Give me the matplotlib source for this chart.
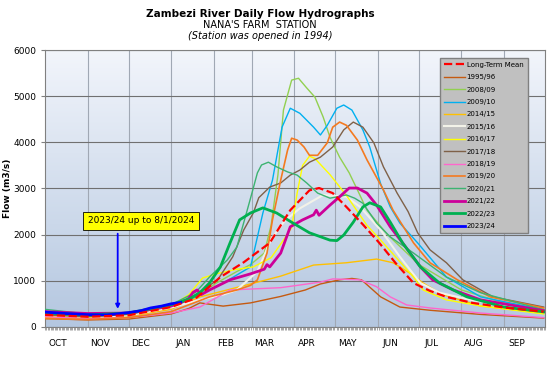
import numpy as np
import matplotlib
matplotlib.use("Agg")
import matplotlib.pyplot as plt
from matplotlib.ticker import MultipleLocator

# days counted from 1 October, flows in m3/s
months = ['OCT', 'NOV', 'DEC', 'JAN', 'FEB', 'MAR', 'APR', 'MAY', 'JUN', 'JUL', 'AUG', 'SEP']
month_start = [0, 31, 61, 92, 123, 151, 182, 212, 243, 273, 304, 335]

ltm_days = [0, 31, 61, 92, 110, 128, 145, 164, 179, 193, 200, 210, 220, 232, 244, 256, 269, 281, 293, 312, 335, 364]
ltm_flow = [260, 220, 250, 430, 620, 1080, 1400, 1820, 2530, 2960, 3010, 2900, 2600, 2220, 1820, 1380, 950, 780, 650, 520, 420, 330]

d9596 = [0, 31, 61, 92, 105, 113, 130, 150, 172, 190, 201, 215, 224, 231, 245, 259, 281, 318, 364]
f9596 = [180, 150, 170, 280, 400, 520, 450, 520, 660, 800, 930, 1020, 1050, 1020, 650, 430, 360, 270, 190]

d0809 = [0, 31, 61, 92, 110, 125, 140, 150, 160, 165, 170, 174, 180, 185, 191, 197, 203, 208, 215, 222, 228, 235, 250, 273, 304, 335, 364]
f0809 = [240, 210, 260, 420, 650, 950, 1200, 1350, 1600, 2200, 3300, 4700, 5350, 5390, 5180, 4980, 4550, 4110, 3680, 3340, 2970, 2530, 2000, 1350, 800, 520, 380]

d0910 = [0, 31, 61, 92, 110, 120, 130, 150, 159, 166, 173, 179, 186, 191, 196, 201, 206, 213, 218, 224, 232, 237, 245, 252, 259, 272, 293, 318, 364]
f0910 = [280, 230, 280, 450, 650, 800, 950, 1300, 2470, 3180, 4330, 4740, 4630, 4480, 4330, 4160, 4370, 4740, 4810, 4700, 4270, 3900, 3100, 2600, 2250, 1820, 1080, 650, 370]

d1415 = [0, 31, 61, 92, 113, 142, 172, 196, 220, 242, 254, 266, 276, 290, 318, 364]
f1415 = [200, 180, 230, 380, 650, 870, 1100, 1340, 1390, 1470, 1390, 1170, 950, 700, 450, 300]

d1516 = [0, 31, 61, 92, 115, 130, 140, 155, 165, 175, 186, 203, 220, 230, 245, 259, 274, 288, 310, 364]
f1516 = [250, 210, 250, 420, 600, 700, 800, 1200, 1900, 2300, 2570, 2860, 2820, 2600, 2100, 1520, 950, 740, 590, 320]

d1617 = [0, 31, 61, 92, 105, 115, 125, 140, 152, 165, 174, 180, 184, 188, 193, 197, 208, 220, 235, 245, 269, 276, 293, 318, 364]
f1617 = [230, 200, 280, 450, 700, 1060, 1150, 1250, 1300, 1500, 1880, 2150, 2900, 3500, 3700, 3650, 3300, 2850, 2200, 1880, 1080, 800, 585, 455, 280]

d1718 = [0, 31, 61, 92, 110, 126, 137, 145, 152, 156, 164, 172, 179, 186, 193, 201, 210, 218, 225, 232, 240, 247, 257, 265, 272, 281, 293, 305, 327, 364]
f1718 = [260, 220, 270, 450, 700, 1020, 1520, 2100, 2470, 2800, 3030, 3120, 3290, 3400, 3570, 3680, 3900, 4270, 4440, 4330, 3990, 3470, 2900, 2500, 2040, 1670, 1390, 1020, 650, 430]

d1819 = [0, 31, 61, 92, 113, 135, 172, 201, 210, 230, 242, 252, 264, 281, 318, 364]
f1819 = [220, 180, 200, 300, 430, 800, 850, 970, 1040, 1020, 870, 650, 475, 410, 300, 200]

d1920 = [0, 31, 61, 92, 120, 140, 150, 155, 162, 166, 172, 177, 180, 184, 189, 193, 199, 206, 210, 215, 220, 228, 235, 247, 254, 269, 281, 301, 325, 364]
f1920 = [180, 160, 200, 330, 650, 800, 900, 1020, 1600, 2320, 3180, 3830, 4090, 4050, 3900, 3720, 3720, 3990, 4330, 4440, 4370, 4050, 3620, 2970, 2530, 1820, 1390, 1020, 650, 410]

d2021 = [0, 31, 61, 92, 110, 120, 133, 140, 147, 151, 155, 158, 163, 169, 177, 184, 191, 199, 208, 220, 226, 232, 242, 252, 269, 293, 318, 364]
f2021 = [380, 280, 300, 480, 750, 1080, 1450, 1730, 2470, 2900, 3340, 3510, 3570, 3470, 3360, 3290, 3120, 2900, 2790, 2860, 2790, 2680, 2250, 1950, 1600, 1080, 740, 370]

d2122 = [0, 31, 61, 92, 104, 108, 111, 114, 120, 135, 150, 160, 162, 164, 172, 179, 188, 196, 198, 200, 208, 215, 222, 228, 235, 242, 252, 261, 274, 283, 298, 318, 364]
f2122 = [330, 290, 300, 450, 585, 750, 800, 700, 800, 1020, 1150, 1250, 1350, 1300, 1600, 2170, 2320, 2430, 2530, 2420, 2640, 2820, 3010, 3010, 2900, 2640, 2170, 1820, 1300, 1020, 800, 585, 350]

d2223 = [0, 31, 61, 92, 105, 113, 120, 128, 135, 142, 150, 159, 169, 181, 193, 208, 213, 218, 225, 232, 237, 245, 252, 261, 274, 288, 308, 335, 364]
f2223 = [300, 260, 300, 480, 600, 740, 950, 1300, 1820, 2320, 2470, 2580, 2470, 2250, 2040, 1880, 1870, 1990, 2270, 2600, 2690, 2600, 2270, 1820, 1300, 950, 650, 430, 325]

d2324 = [0, 15, 31, 45, 55, 61, 70, 77, 85, 92, 99]
f2324 = [320, 290, 265, 260, 290, 310, 350, 410, 450, 500, 530]

fig = plt.figure(figsize=(5.5, 3.74), dpi=100)
ax = fig.add_axes([0.082, 0.126, 0.909, 0.74])

# gradient plot background
grad = np.linspace(0, 1, 256).reshape(-1, 1)
cmap = matplotlib.colors.LinearSegmentedColormap.from_list('bg', ['#f2f5fb', '#b4c7e0'])
ax.imshow(grad, aspect='auto', cmap=cmap, extent=[0, 1, 0, 1], transform=ax.transAxes, zorder=0)

series = [
    (d9596, f9596, '#c55a11', 1.0, '1995/96'),
    (d0809, f0809, '#92d050', 1.0, '2008/09'),
    (d0910, f0910, '#00b0f0', 1.0, '2009/10'),
    (d1415, f1415, '#ffc000', 1.0, '2014/15'),
    (d1516, f1516, '#f2f2e8', 1.5, '2015/16'),
    (d1617, f1617, '#ffff00', 1.0, '2016/17'),
    (d1718, f1718, '#7f6148', 1.0, '2017/18'),
    (d1819, f1819, '#ff66cc', 1.0, '2018/19'),
    (d1920, f1920, '#f47a20', 1.2, '2019/20'),
    (d2021, f2021, '#3cb371', 1.0, '2020/21'),
    (d2122, f2122, '#cc0099', 2.0, '2021/22'),
    (d2223, f2223, '#00b050', 2.0, '2022/23'),
    (d2324, f2324, '#0000ff', 2.0, '2023/24'),
]

ax.plot(ltm_days, ltm_flow, '--', color='#ff0000', lw=1.6, label='Long-Term Mean', zorder=5)
for d, f, c, w, lab in series:
    ax.plot(d, f, color=c, lw=w, label=lab, zorder=4)

ax.set_xlim(0, 365)
ax.set_ylim(0, 6000)
ax.set_xticks(month_start[1:])
ax.set_xticklabels([])
ax.xaxis.set_minor_locator(MultipleLocator(1))
ax.tick_params(axis='x', which='major', length=0)
ax.tick_params(axis='x', which='minor', length=2, width=0.5, color='#808080')
for m, s in zip(months, month_start):
    ax.text(s + 9, -0.045, m, transform=ax.get_xaxis_transform(), ha='center', va='top', fontsize=6.5)

ax.set_yticks(range(0, 6001, 1000))
ax.tick_params(axis='y', labelsize=6.5, length=3, color='#808080')
ax.set_ylabel('Flow (m3/s)', fontsize=6.5, fontweight='bold')
ax.yaxis.set_label_coords(-0.066, 0.5)

ax.grid(axis='y', color='#707070', lw=0.8, zorder=1)
ax.grid(axis='x', color='#a0a8b4', lw=0.8, zorder=1)
ax.set_axisbelow(True)
for sp in ax.spines.values():
    sp.set_color('#808080')

ax.text(70, 2300, '2023/24 up to 8/1/2024', fontsize=6.5, ha='center', va='center', zorder=7,
        bbox=dict(boxstyle='square,pad=0.5', facecolor='#ffff00', edgecolor='black', lw=0.6))
ax.annotate('', xy=(53, 330), xytext=(53, 2080), zorder=7,
            arrowprops=dict(arrowstyle='-|>', color='#0000ff', lw=1.3, mutation_scale=6))

leg = ax.legend(loc='upper right', bbox_to_anchor=(0.972, 0.985), fontsize=5, frameon=True,
                fancybox=False, handlelength=3.0, handletextpad=0.3, labelspacing=0.92, borderpad=0.6)
leg.get_frame().set_facecolor('#c0c0c0')
leg.get_frame().set_edgecolor('#808080')
leg.get_frame().set_alpha(1)

fig.text(0.473, 0.963, 'Zambezi River Daily Flow Hydrographs', ha='center', va='center', fontsize=7.5, fontweight='bold')
fig.text(0.473, 0.933, "NANA'S FARM  STATION", ha='center', va='center', fontsize=7)
fig.text(0.473, 0.903, '(Station was opened in 1994)', ha='center', va='center', fontsize=7, style='italic')

fig.savefig('out.png', dpi=100)
